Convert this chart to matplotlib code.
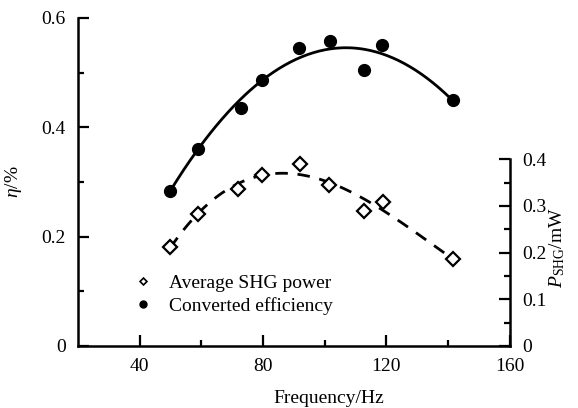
import matplotlib
matplotlib.use('Agg')
import matplotlib.pyplot as plt
from matplotlib.lines import Line2D
import numpy as np

plt.rcParams['font.family'] = 'Liberation Serif'
plt.rcParams['font.size'] = 14
plt.rcParams['mathtext.fontset'] = 'custom'
plt.rcParams['mathtext.rm'] = 'Liberation Serif'
plt.rcParams['mathtext.it'] = 'Liberation Serif:italic'

# data
freq_eff = [49.7, 58.8, 72.7, 79.7, 91.7, 101.7, 112.7, 118.7, 141.5]
efficiency = [0.284, 0.361, 0.435, 0.486, 0.545, 0.557, 0.505, 0.551, 0.450]

freq_shg = [49.9, 58.9, 71.9, 79.7, 91.9, 101.4, 112.8, 118.8, 141.6]
shg_power = [0.213, 0.283, 0.337, 0.366, 0.391, 0.344, 0.290, 0.308, 0.186]

xticks = [40, 80, 120, 160]
eta_ticks = [0, 0.2, 0.4, 0.6]
eta_labels = ['0', '0.2', '0.4', '0.6']
p_ticks = [0, 0.1, 0.2, 0.3, 0.4]
p_labels = ['0', '0.1', '0.2', '0.3', '0.4']

fig = plt.figure(figsize=(5.78, 4.08), dpi=100)
ax = fig.add_axes([0.135, 0.152, 0.747, 0.804])
ax2 = ax.twinx()

# fitted trend curves
xs = np.linspace(min(freq_eff), max(freq_eff), 200)
ax.plot(xs, np.polyval(np.polyfit(freq_eff, efficiency, 2), xs), color='black', lw=2)
ax.plot(freq_eff, efficiency, 'o', color='black', ms=8.5)

xs2 = np.linspace(min(freq_shg), max(freq_shg), 200)
ax2.plot(xs2, np.polyval(np.polyfit(freq_shg, shg_power, 3), xs2), color='black', lw=2,
         linestyle=(0, (4.5, 3.5)))
ax2.plot(freq_shg, shg_power, 'D', mfc='white', mec='black', mew=1.6, ms=7)

ax.set_xlim(20, 160)
ax.set_ylim(0, 0.6)
ax2.set_ylim(0, 0.703)

ax.set_xticks(xticks)
ax.set_xticks([60, 100, 140], minor=True)
ax.set_yticks(eta_ticks)
ax.set_yticklabels(eta_labels)
ax.set_yticks([0.1, 0.3, 0.5], minor=True)
ax2.set_yticks(p_ticks)
ax2.set_yticklabels(p_labels)
ax2.set_yticks(np.arange(0.05, 0.4, 0.1), minor=True)

for a in (ax, ax2):
    a.tick_params(which='major', direction='in', length=8, width=1.6, pad=9)
    a.tick_params(which='minor', direction='in', length=4, width=1.6)
    for s in a.spines.values():
        s.set_linewidth(1.8)
ax.tick_params(axis='y', which='both', right=False)
ax.spines['top'].set_visible(False)
ax.spines['right'].set_visible(False)
ax2.spines['top'].set_visible(False)
ax2.spines['left'].set_visible(False)
ax2.spines['bottom'].set_visible(False)
ax2.spines['right'].set_bounds(0, 0.4)

ax.set_xlabel('Frequency/Hz')
ax.xaxis.set_label_coords(0.58, -0.135)
ax.set_ylabel(r'$\eta$/%')
ax.yaxis.set_label_coords(-0.125, 0.5)
ax2.set_ylabel(r'$P_{\rm SHG}$/mW')
ax2.yaxis.set_label_coords(1.088, 0.3)

handles = [
    Line2D([], [], ls='none', marker='D', mfc='white', mec='black', mew=1.2, ms=3.5),
    Line2D([], [], ls='none', marker='o', color='black', ms=5),
]
ax.legend(handles, ['Average SHG power', 'Converted efficiency'], frameon=False,
          loc='center left', bbox_to_anchor=(0.1, 0.157), handlelength=1.2,
          handletextpad=0.75, labelspacing=0.25, borderpad=0, fontsize=14)

fig.savefig('out.png', dpi=100)
